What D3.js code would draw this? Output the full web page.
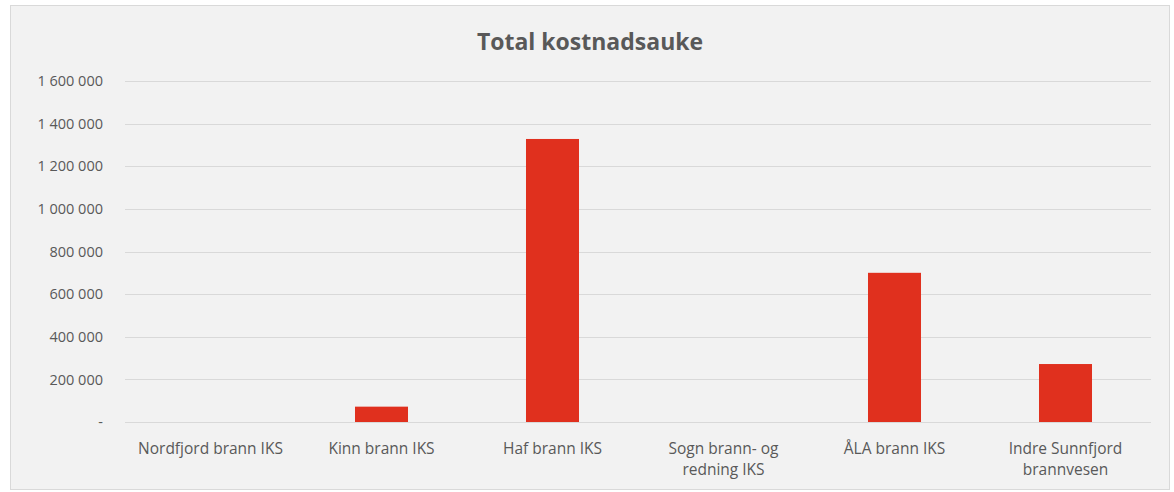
<!DOCTYPE html>
<html>
<head>
<meta charset="utf-8">
<script src="https://cdn.jsdelivr.net/npm/d3@7"></script>
<style>
  body { margin: 0; background: #fff; }
  text { font-family: "Open Sans", "DejaVu Sans", sans-serif; }
</style>
</head>
<body>
<svg id="chart"></svg>
<script>
var categories = [
    ['Nordfjord brann IKS'],
    ['Kinn brann IKS'],
    ['Haf brann IKS'],
    ['Sogn brann- og', 'redning IKS'],
    ['ÅLA brann IKS'],
    ['Indre Sunnfjord', 'brannvesen']
];
var values = [0, 72000, 1328000, 0, 700000, 272000];
var yTicks = [0, 200000, 400000, 600000, 800000, 1000000, 1200000, 1400000, 1600000];
var title = 'Total kostnadsauke';

var W = 1174, H = 492;
var margin = { top: 81, right: 23, bottom: 70, left: 125 };

var svg = d3.select('#chart').attr('width', W).attr('height', H);

// chart area box
svg.append('rect')
    .attr('x', 10.5).attr('y', 5.5)
    .attr('width', 1159).attr('height', 484)
    .attr('fill', '#f2f2f2')
    .attr('stroke', '#d9d9d9');

var x = d3.scaleBand()
    .domain(d3.range(categories.length))
    .range([margin.left, W - margin.right])
    .paddingInner(0.69).paddingOuter(0.345);

var y = d3.scaleLinear()
    .domain([0, 1600000])
    .range([422, margin.top]);

var fmt = function (v) {
    if (v === 0) return '-';
    return d3.format(',')(v).replace(/,/g, ' ');
};

// grid
svg.append('g')
    .selectAll('line')
    .data(yTicks.slice(1))
    .enter().append('line')
    .attr('x1', margin.left).attr('x2', W - margin.right)
    .attr('y1', function (d) { return Math.round(y(d)) + 0.5; })
    .attr('y2', function (d) { return Math.round(y(d)) + 0.5; })
    .attr('stroke', '#d9d9d9');

// y labels
var yAxis = d3.axisLeft(y).tickValues(yTicks).tickFormat(fmt).tickSize(0).tickPadding(22);
var gy = svg.append('g').attr('transform', 'translate(' + margin.left + ',0)').call(yAxis);
gy.select('.domain').remove();
gy.selectAll('text')
    .attr('fill', '#595959')
    .style('font-size', '14.5px')
    .style('font-family', '"Open Sans", sans-serif');

// bars
svg.append('g')
    .selectAll('rect')
    .data(values)
    .enter().append('rect')
    .attr('x', function (d, i) { return x(i); })
    .attr('width', x.bandwidth())
    .attr('y', function (d) { return y(d); })
    .attr('height', function (d) { return y(0) - y(d); })
    .attr('fill', '#e0301e');

// baseline
svg.append('line')
    .attr('x1', margin.left).attr('x2', W - margin.right)
    .attr('y1', Math.round(y(0)) + 0.5).attr('y2', Math.round(y(0)) + 0.5)
    .attr('stroke', '#d9d9d9');

// category labels
var cl = svg.append('g')
    .selectAll('text')
    .data(categories)
    .enter().append('text')
    .attr('text-anchor', 'middle')
    .attr('fill', '#595959')
    .style('font-size', '15.5px')
    .attr('transform', function (d, i) {
        return 'translate(' + (x(i) + x.bandwidth() / 2) + ',454)';
    });
cl.selectAll('tspan')
    .data(function (d) { return d; })
    .enter().append('tspan')
    .attr('x', 0)
    .attr('dy', function (d, i) { return i === 0 ? 0 : 21; })
    .text(function (d) { return d; });

// title
svg.append('text')
    .attr('x', 590).attr('y', 50)
    .attr('text-anchor', 'middle')
    .attr('fill', '#595959')
    .style('font-size', '23px')
    .style('font-weight', 'bold')
    .text(title);
</script>
</body>
</html>
